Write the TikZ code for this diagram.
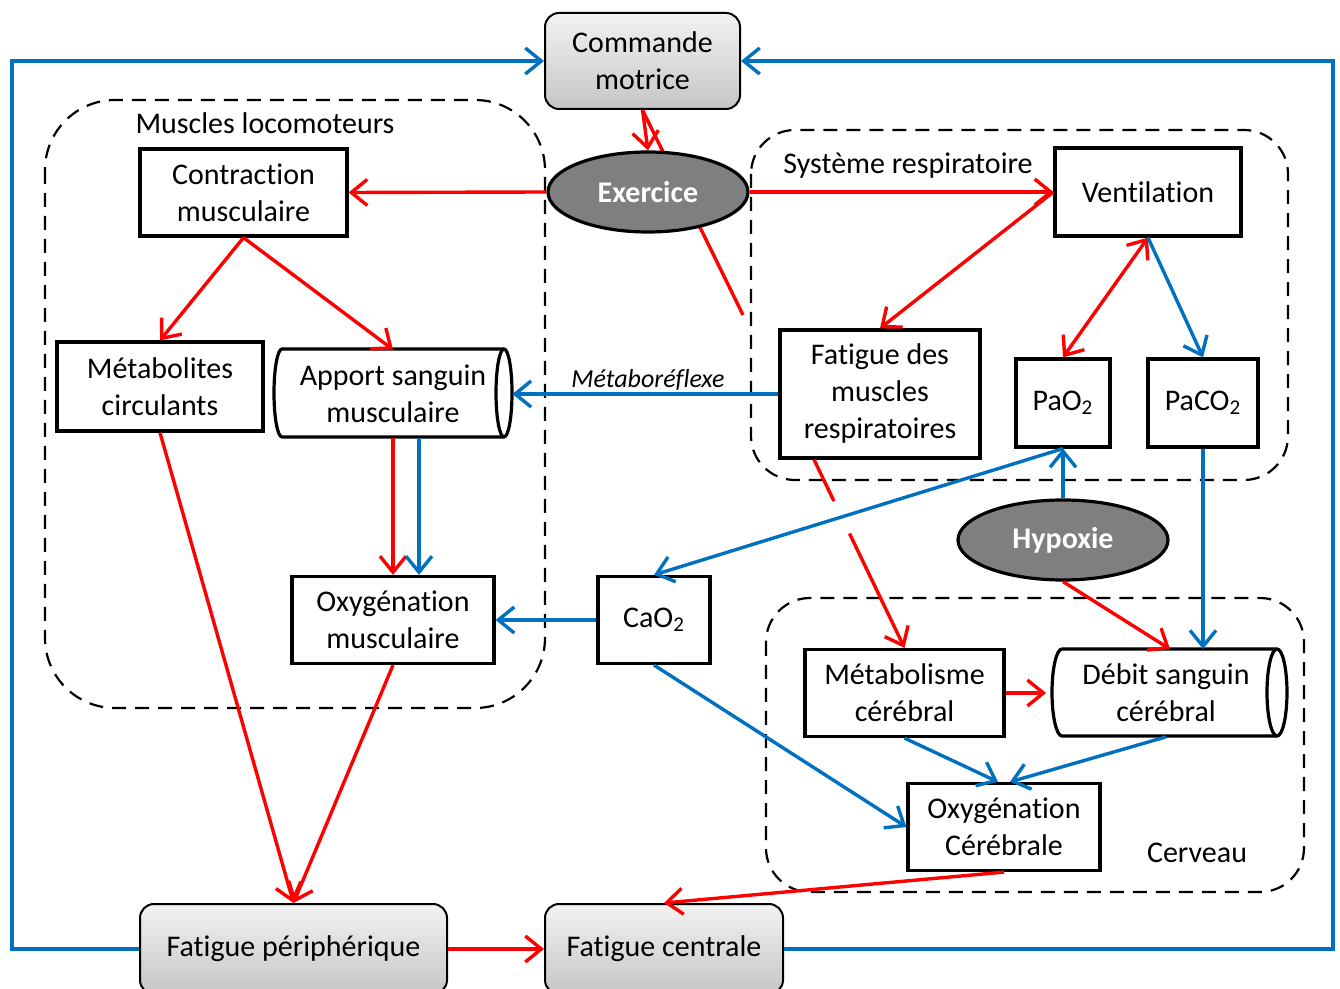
\documentclass[tikz,border=0pt]{standalone}
\usepackage{fontspec}
\setmainfont[Ligatures=NoCommon]{Carlito}
\usetikzlibrary{arrows.meta,shapes.geometric}
\pgfdeclarelayer{background}
\pgfsetlayers{background,main}
\definecolor{rd}{HTML}{FF0000}
\definecolor{bl}{HTML}{0070C0}
\definecolor{ellg}{HTML}{7F7F7F}
\newcommand\mfs{\fontsize{15pt}{18.5pt}\selectfont}
\newcommand\sfs{\fontsize{13pt}{15pt}\selectfont}
\begin{document}
\begin{tikzpicture}[x=0.5pt,y=-0.5pt,
  box/.style={draw=black, line width=1.6pt, fill=white, align=center, inner sep=0pt, font=\mfs},
  gbox/.style={draw=black, line width=1pt, rounded corners=7pt, top color=gray!10, bottom color=gray!45, align=center, inner sep=0pt, font=\mfs},
  ell/.style={ellipse, draw=black, line width=1.6pt, fill=ellg, text=white, font=\mfs\bfseries, inner sep=0pt},
  cyltext/.style={align=center, inner sep=0pt, font=\mfs},
  region/.style={draw=black, line width=1.1pt, dash pattern=on 7pt off 4.5pt},
  lbl/.style={font=\mfs, inner sep=0pt},
  tip/.style={},
  ra/.style={draw=rd, line width=1.7pt, -{Straight Barb[length=8pt,width=13pt]}},
  rda/.style={draw=rd, line width=1.7pt, {Straight Barb[length=8pt,width=13pt]}-{Straight Barb[length=8pt,width=13pt]}},
  rl/.style={draw=rd, line width=1.7pt},
  ba/.style={draw=bl, line width=1.7pt, -{Straight Barb[length=8pt,width=13pt]}}
]
\useasboundingbox (0,0) rectangle (1340,989);
\clip (0,0) rectangle (1340,989);
\begin{pgfonlayer}{background}
\fill[white] (0,0) rectangle (1340,989);
\end{pgfonlayer}

% dashed regions
\draw[region, rounded corners=35pt] (45,100) rectangle (545,708);
\draw[region, rounded corners=22pt] (751,130) rectangle (1288,480);
\draw[region, rounded corners=22pt] (766,598) rectangle (1304,892);
\node[lbl] (lml) at (265,123) {Muscles locomoteurs};
\node[lbl] (lsr) at (908,166) {Système respiratoire};
\node[lbl] (lcv) at (1197,853) {Cerveau};

% cylinders outlines
\draw[fill=white, line width=1.6pt] (504,349) -- (282,349) arc[start angle=-90, end angle=-270, x radius=8, y radius=44] -- (504,437) arc[start angle=90, end angle=-90, x radius=8, y radius=44] -- cycle;
\draw[line width=1.6pt] (504,349) arc[start angle=-90, end angle=-270, x radius=8, y radius=44];
\draw[fill=white, line width=1.6pt] (1277,649) -- (1062,649) arc[start angle=-90, end angle=-270, x radius=10, y radius=43.5] -- (1277,736) arc[start angle=90, end angle=-90, x radius=10, y radius=43.5] -- cycle;
\draw[line width=1.6pt] (1277,649) arc[start angle=-90, end angle=-270, x radius=10, y radius=43.5];

% nodes
\node[gbox, minimum width=97.5pt, minimum height=48pt] (cmd) at (642.5,61) {Commande\\motrice};
\node[ell, minimum width=100pt, minimum height=40pt] (exer) at (648,192) {Exercice};
\node[box, minimum width=103.5pt, minimum height=43.5pt] (contr) at (243.5,192.5) {Contraction\\musculaire};
\node[box, minimum width=103pt, minimum height=44.5pt] (metab) at (160,386.5) {Métabolites\\circulants};
\node[cyltext, minimum width=119pt, minimum height=44pt] (apport) at (393,394) {Apport sanguin\\musculaire};
\node[box, minimum width=101pt, minimum height=43.5pt] (oxym) at (393,620) {Oxygénation\\musculaire};
\node[box, minimum width=93pt, minimum height=44pt] (vent) at (1148,192) {Ventilation};
\node[box, minimum width=100pt, minimum height=64pt] (fatr) at (880,394) {Fatigue des\\muscles\\respiratoires};
\node[box, minimum width=47pt, minimum height=44pt] (pao) at (1063,403) {PaO\textsubscript{2}};
\node[box, minimum width=55pt, minimum height=44pt] (paco) at (1203,403) {PaCO\textsubscript{2}};
\node[ell, minimum width=105pt, minimum height=40pt] (hyp) at (1063,540) {Hypoxie};
\node[box, minimum width=56pt, minimum height=43.5pt] (cao) at (654,620) {CaO\textsubscript{2}};
\node[box, minimum width=99.5pt, minimum height=43.5pt] (metc) at (904.5,693) {Métabolisme\\cérébral};
\node[cyltext, minimum width=117.5pt, minimum height=43.5pt] (debit) at (1166,693) {Débit sanguin\\cérébral};
\node[box, minimum width=96pt, minimum height=43.5pt] (oxyc) at (1004,827) {Oxygénation\\Cérébrale};
\node[gbox, minimum width=153.5pt, minimum height=45pt] (fperi) at (293.5,949) {Fatigue périphérique};
\node[gbox, minimum width=119pt, minimum height=45pt] (fcent) at (664,949) {Fatigue centrale};
\node[font=\sfs\itshape, inner sep=0pt] (lmeta) at (648,380) {Métaboréflexe};

\coordinate (hid) at (743,315);
\coordinate (lc) at (12,0);
\coordinate (rc) at (1333,0);

\begin{pgfonlayer}{background}
\draw[rl] (cmd.south) -- (hid);
\end{pgfonlayer}

% connectors
\draw[ra] (cmd.south) -- (exer.north);
\draw[ra] (exer.west) -- (contr.east);
\draw[ra] (exer.east) -- (vent.west);
\draw[ra] (contr.south) -- (metab.north);
\draw[ra] (contr.south) -- (apport.north);
\draw[ra] (vent.west) -- (fatr.north);
\draw[rda] (vent.south) -- (pao.north);
\draw[ba] (vent.south) -- (paco.north);
\draw[ba] (fatr.west) -- (apport.east);
\draw[ra, dash pattern=on 23pt off 18pt on 300pt] ([xshift=-33pt]fatr.south) -- (metc.north);
\draw[ba] (hyp.north) -- (pao.south);
\draw[ba] (pao.south) -- (cao.north);
\draw[ba] (paco.south) -- (paco.south |- debit.north);
\draw[ra] (hyp.south) -- ([xshift=2pt]debit.north);
\draw[ra] (metc.east) -- ([xshift=-1pt]debit.west);
\draw[ba] (metc.south) -- ([xshift=-3pt]oxyc.north);
\draw[ba] (debit.south) -- ([xshift=3pt]oxyc.north);
\draw[ba] (cao.south) -- (oxyc.west);
\draw[ba] (cao.west) -- (oxym.east);
\draw[ra] (apport.south) -- (oxym.north);
\draw[ba] ([xshift=13pt]apport.south) -- ([xshift=13pt]oxym.north);
\draw[ra] (metab.south) -- (fperi.north);
\draw[ra] (oxym.south) -- (fperi.north);
\draw[ra] (oxyc.south) -- (fcent.north);
\draw[ra] (fperi.east) -- (fcent.west);
\draw[ba] (fperi.west) -- (fperi.west -| lc) |- (cmd.west);
\draw[ba] (fcent.east) -- (fcent.east -| rc) |- (cmd.east);
\end{tikzpicture}
\end{document}
